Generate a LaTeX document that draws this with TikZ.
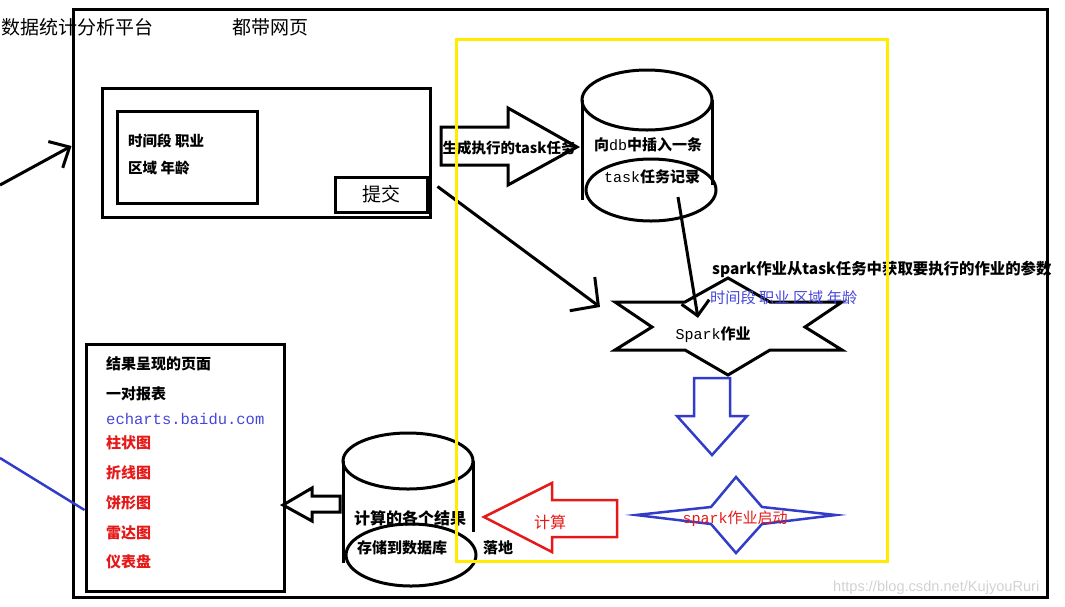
\documentclass[tikz,border=0pt]{standalone}
\usepackage{fontspec}
\setmainfont{Noto Sans CJK SC}
\newfontfamily\monofont{Liberation Mono}
\newfontfamily\urlfont{Liberation Sans}
\usepackage{tikz}
\usetikzlibrary{positioning, arrows.meta}
\definecolor{sparkblue}{RGB}{50,60,200}
\definecolor{textblue}{RGB}{70,70,220}
\definecolor{calcred}{RGB}{230,25,25}
\definecolor{zoneyellow}{RGB}{255,236,0}
\definecolor{markgrey}{RGB}{210,210,210}

\begin{document}
\begin{tikzpicture}[x=1pt, y=-1pt,
    box/.style={draw, line width=3pt, inner sep=0},
    txt/.style={inner sep=0, font=\fontsize{15}{18}\selectfont},
    btxt/.style={inner sep=0, font=\fontsize{15}{18}\selectfont\bfseries},
    bigtxt/.style={inner sep=0, font=\fontsize{19}{22}\selectfont},
    arr/.style={-{Straight Barb[length=14pt, width=28pt]}, line width=3pt},
    hollow/.style={line width=3pt, line join=miter},
    thinhollow/.style={line width=2.5pt, line join=miter}
  ]
  \useasboundingbox (0,0) rectangle (1065,606);

  % platform frame and titles
  \node[box, minimum width=974pt, minimum height=588pt] (platform) at (560,303) {};
  \node[bigtxt, anchor=west] (platname) at (1,27) {数据统计分析平台};
  \node[bigtxt] (webpage) at (270,27) {都带网页};

  % query form with submit button
  \node[box, minimum width=328pt, minimum height=129pt] (queryform) at (266,152.5) {};
  \node[box, minimum width=140pt, minimum height=92pt] (params) at (187,157) {};
  \node[btxt, anchor=west, font=\fontsize{14.5}{17}\selectfont\bfseries] (timejob) at (128,141) {时间段 职业};
  \node[btxt, anchor=west, font=\fontsize{14.5}{17}\selectfont\bfseries] (areaage) at (128,168) {区域 年龄};
  \node[box, bigtxt, minimum width=92pt, minimum height=35pt] (submit) at (381,194.5) {提交};

  \coordinate (user) at (0,185);
  \draw[arr, -{Straight Barb[length=16pt, width=30pt]}] (user) -- (platform.west |- 0,146);

  % task arrow
  \draw[hollow] (441,127) -- (508,127) -- (508,108) -- (577,147) -- (508,185) -- (508,165) -- (441,165) -- cycle;
  \node[btxt, font=\fontsize{14.5}{17}\selectfont\bfseries] (gentask) at (509,148) {生成执行的task任务};

  % db with task record
  \draw[line width=3pt] (647,100) ellipse [x radius=65pt, y radius=30pt];
  \draw[line width=3pt] (582,100) -- (582,200) (712,100) -- (712,185);
  \draw[line width=3pt] (651,190) ellipse [x radius=65pt, y radius=31pt];
  \node[btxt] (insertdb) at (648,145) {向{\monofont\mdseries db}中插入一条};
  \node[btxt] (taskrec) at (652,177) {{\monofont\mdseries task}任务记录};
  \coordinate (recordout) at (678,197);

  % spark job
  \draw[hollow] (728,278) -- (770,302) -- (842,302) -- (805,327) -- (842,350) -- (770,350)
    -- (728,375) -- (685,350) -- (615,350) -- (652,327) -- (615,302) -- (685,302) -- cycle;
  \node[txt] (sparkjob) at (713,335) {{\monofont Spark}\textbf{作业}};
  \draw[arr] (recordout) -- ([shift={(-15pt,9pt)}]sparkjob.north);
  \coordinate (jobin) at (600,307);
  \draw[arr, -{Straight Barb[length=20pt, width=42pt]}] ([shift={(9pt,8pt)}]submit.east) -- (jobin);

  \node[btxt, anchor=west, font=\fontsize{15.4}{18}\selectfont\bfseries] (jobparams) at (712,269) {spark作业从task任务中获取要执行的作业的参数};
  \node[txt, anchor=west, text=textblue, font=\fontsize{15.2}{18}\selectfont] (paramlist) at (710,298) {时间段 职业 区域 年龄};

  % job start
  \draw[thinhollow, sparkblue] (694,378) -- (730,378) -- (730,416) -- (747,416) -- (712,455) -- (677,416) -- (694,416) -- cycle;
  \draw[thinhollow, sparkblue] (736,477) -- (762,507) -- (836,515) -- (762,524) -- (736,553)
    -- (711,524) -- (636,515) -- (711,507) -- cycle;
  \node[txt, text=calcred] (sparkstart) at (735,519) {{\monofont spark}作业启动};

  % compute
  \draw[thinhollow, calcred] (617,500) -- (552,500) -- (552,483) -- (484,517) -- (552,552) -- (552,537) -- (617,537) -- cycle;
  \node[txt, text=calcred, font=\fontsize{16}{19}\selectfont] (calc) at (550,522) {计算};

  % result db
  \draw[line width=3pt] (408,461) ellipse [x radius=65pt, y radius=28pt];
  \draw[line width=3pt] (343,461) -- (343,563) (473,461) -- (473,532);
  \draw[line width=3pt] (411,555) ellipse [x radius=65pt, y radius=31pt];
  \node[btxt, font=\fontsize{16}{19}\selectfont\bfseries] (results) at (410,518) {计算的各个结果};
  \node[btxt] (storedb) at (402,548) {存储到数据库};
  \node[btxt] (landing) at (498,548) {落地};
  \draw[hollow] (340,496) -- (312,496) -- (312,488) -- (283,505) -- (312,521) -- (312,512) -- (340,512) -- cycle;

  % result page
  \node[box, minimum width=198pt, minimum height=247pt] (resultpage) at (185,467.5) {};
  \node[btxt, anchor=west] (pagetitle) at (106,364) {结果呈现的页面};
  \node[btxt, anchor=west] (reports) at (106,394) {一对报表};
  \node[txt, anchor=west, text=textblue, font=\monofont\fontsize{15.5}{18}\selectfont] (echarts) at (106,419) {echarts.baidu.com};
  \node[btxt, anchor=west, text=calcred] (bar) at (106,443) {柱状图};
  \node[btxt, anchor=west, text=calcred] (line) at (106,473) {折线图};
  \node[btxt, anchor=west, text=calcred] (pie) at (106,503) {饼形图};
  \node[btxt, anchor=west, text=calcred] (radar) at (106,533) {雷达图};
  \node[btxt, anchor=west, text=calcred] (gauge) at (106,562) {仪表盘};

  \coordinate (chartsrc) at (0,458);
  \draw[sparkblue, line width=2.5pt] (chartsrc) -- (resultpage.west |- 0,510);

  % spark zone
  \node[draw=zoneyellow, line width=3pt, inner sep=0, minimum width=431pt, minimum height=522pt] (sparkzone) at (671.5,300) {};

  \node[inner sep=0, anchor=west, text=markgrey, font=\urlfont\fontsize{14.6}{17}\selectfont] (watermark) at (833,588) {https://blog.csdn.net/KujyouRuri};
\end{tikzpicture}
\end{document}
